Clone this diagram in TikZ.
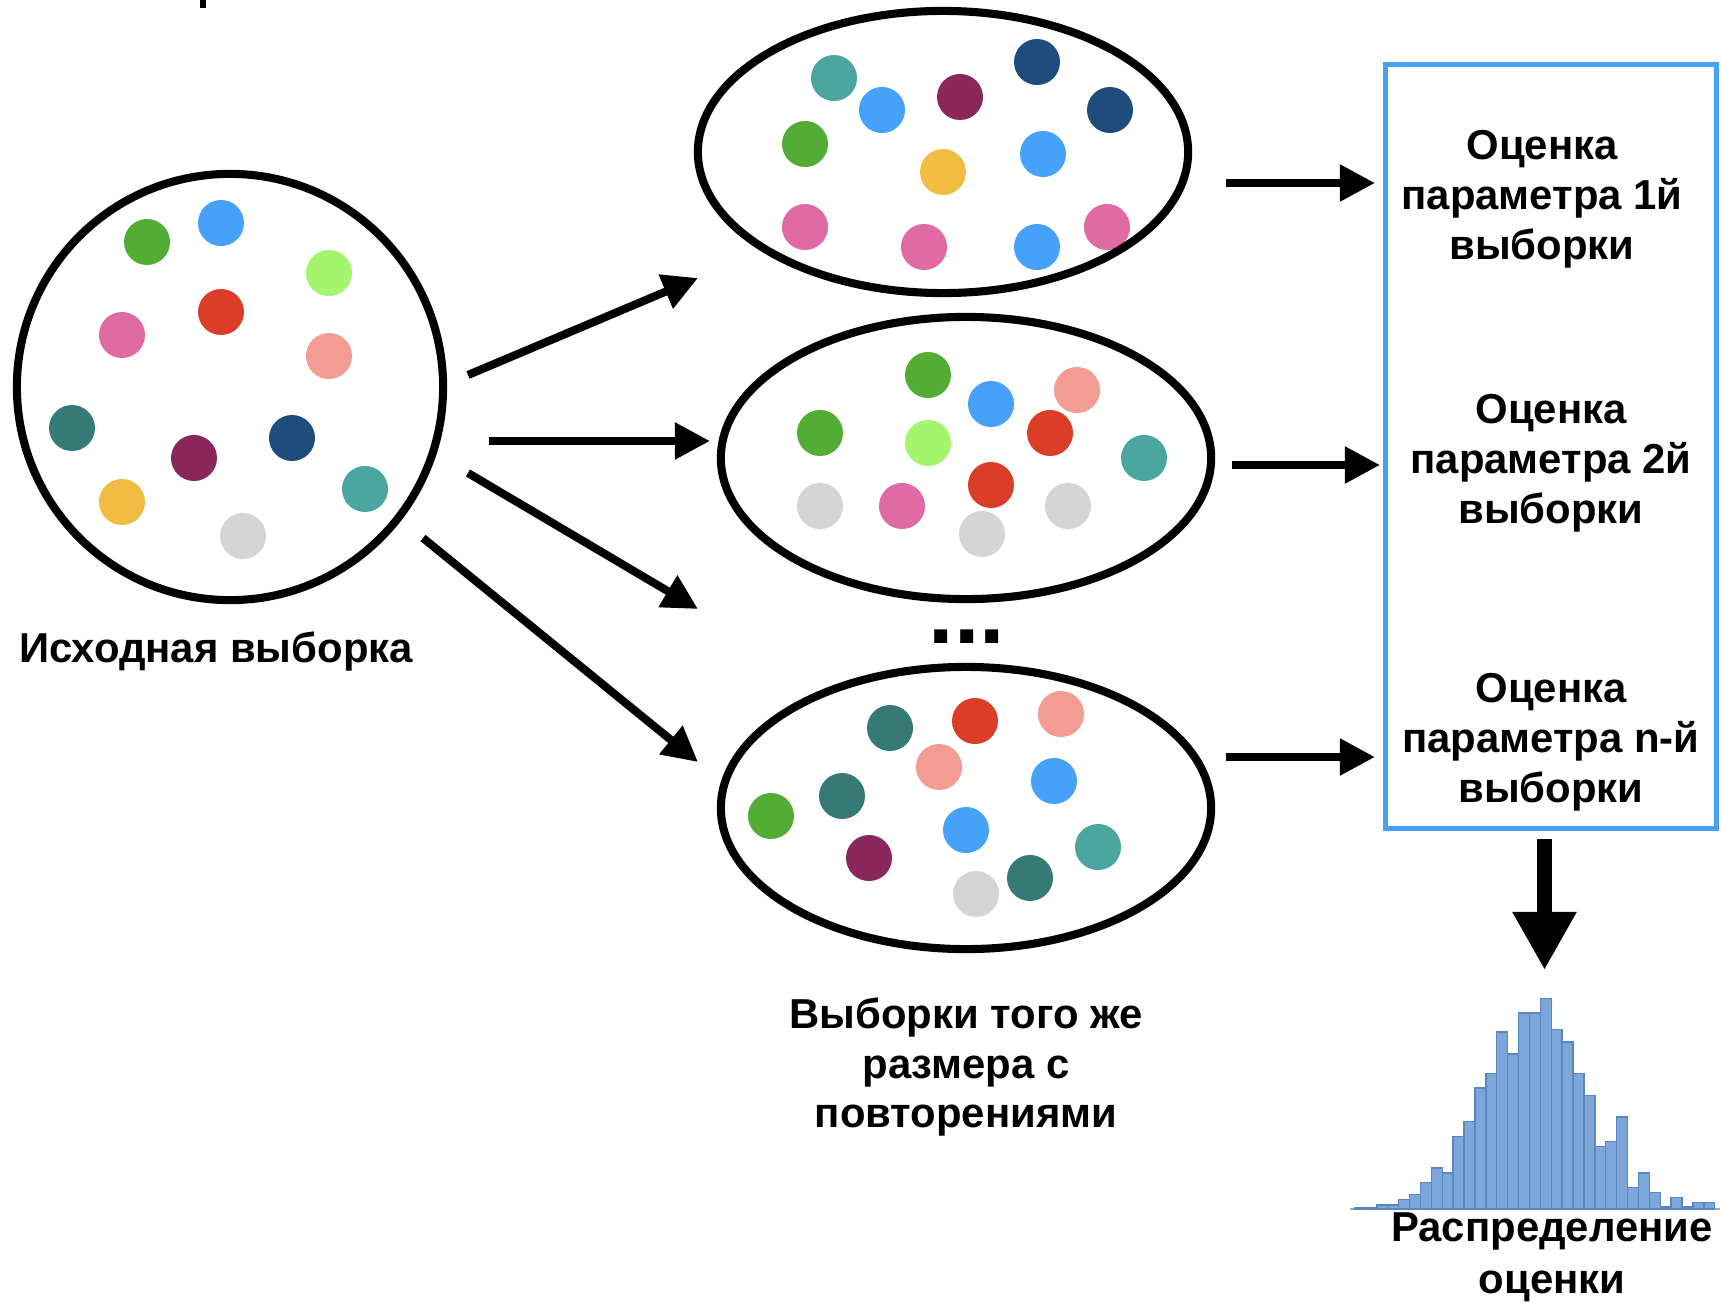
\documentclass[tikz,border=0pt]{standalone}
\usepackage{fontspec}
\setmainfont{Liberation Sans}
\usepackage{xcolor}
\usetikzlibrary{positioning,shapes.geometric,arrows.meta}
\definecolor{cgreen}{HTML}{53AC34}
\definecolor{cblue}{HTML}{45A2F8}
\definecolor{clime}{HTML}{A3F56B}
\definecolor{cred}{HTML}{DC3D28}
\definecolor{cpink}{HTML}{DF6AA4}
\definecolor{csalmon}{HTML}{F29C92}
\definecolor{cpine}{HTML}{357A75}
\definecolor{cplum}{HTML}{8B285B}
\definecolor{cnavy}{HTML}{1E4D7C}
\definecolor{cteal}{HTML}{4AA69E}
\definecolor{cyellow}{HTML}{F0BD42}
\definecolor{cgrey}{HTML}{D5D5D5}
\definecolor{boxblue}{HTML}{45A2F8}
\definecolor{barfill}{HTML}{7BA7DB}
\definecolor{barline}{HTML}{5B86BE}

\begin{document}
\begin{tikzpicture}[x=0.01cm, y=-0.01cm,
  every node/.style={font=\bfseries\fontsize{11.9}{14.2}\selectfont, align=center, inner sep=0pt},
  pool/.style={circle, draw, line width=2.3pt, minimum size=4.26cm},
  smp/.style={ellipse, draw, line width=2.3pt, minimum width=4.9cm, minimum height=2.82cm},
  estbox/.style={rectangle, draw=boxblue, line width=1.4pt, minimum width=3.3cm, minimum height=7.63cm},
  arr/.style={line width=2.3pt, -{Triangle[length=3.5mm, width=3.5mm]}},
  bigarr/.style={line width=0.15cm, -{Triangle[length=5.8mm, width=6mm]}},
  bar/.style={draw=barline, fill=barfill, line width=0.4pt}
]
  \useasboundingbox (0,0) rectangle (1721,1303);
  \fill (200,0) rectangle (206,8);

  % Balls of the original sample
  \foreach \x/\y/\c in {147/242/cgreen, 221/223/cblue, 329/273/clime, 221/312/cred,
      122/335/cpink, 329/356/csalmon, 72/428/cpine, 194/458/cplum, 292/438/cnavy,
      365/489/cteal, 122/502/cyellow, 243/536/cgrey}
    \fill[\c] (\x,\y) circle (0.23cm);

  % Balls of the resamples
  \foreach \x/\y/\c in {834/78/cteal, 882/110/cblue, 960/97/cplum, 1037/62/cnavy,
      1110/110/cnavy, 805/144/cgreen, 943/172/cyellow, 1043/154/cblue, 805/227/cpink,
      924/247/cpink, 1037/247/cblue, 1107/227/cpink}
    \fill[\c] (\x,\y) circle (0.23cm);
  \foreach \x/\y/\c in {928/375/cgreen, 991/404/cblue, 1077/390/csalmon, 820/433/cgreen,
      928/443/clime, 1050/433/cred, 1144/458/cteal, 991/485/cred, 820/506/cgrey,
      902/506/cpink, 1068/506/cgrey, 982/534/cgrey}
    \fill[\c] (\x,\y) circle (0.23cm);
  \foreach \x/\y/\c in {890/728/cpine, 975/721/cred, 1061/714/csalmon, 939/767/csalmon,
      1054/781/cblue, 771/816/cgreen, 842/796/cpine, 966/830/cblue, 1098/847/cteal,
      869/858/cplum, 1030/878/cpine, 976/894/cgrey}
    \fill[\c] (\x,\y) circle (0.23cm);

  % Samples
  \node[pool] (orig) at (230,387) {};
  \node[smp] (smp1) at (943,152) {};
  \node[smp] (smp2) at (966,458) {};
  \node[smp] (smpn) at (966,808) {};
  \node[font=\bfseries\fontsize{26}{30}\selectfont, anchor=base] (more) at (967,643) {...};

  % Estimates
  \node[estbox] (box) at (1551,446.5) {};
  \node (est1) at (1542,199) {Оценка\\параметра 1й\\выборки};
  \node (est2) at (1551,463) {Оценка\\параметра 2й\\выборки};
  \node (estn) at (1551,742) {Оценка\\параметра n-й\\выборки};

  % Labels
  \node[anchor=base] (origlbl) at (216,662) {Исходная выборка};
  \node (smplbl) at (966,1067) {Выборки того же\\размера с\\повторениями};
  \node (distlbl) at (1552,1257) {Распределение\\[0.02cm]оценки};

  % Histogram
  \draw[draw=gray!70, line width=0.6pt] (1350,1209) -- (1720,1209);
  \foreach \h [count=\i from 0] in {1.7,1.7,4,4,9.3,14.3,26.7,41,36,72.7,87.3,121,135.3,
      177,155,196,196,210.3,179.3,167,135.3,113.7,62.7,67.7,92,21.3,36,16.7,2,11.7,2,6.7,6.7}
    \draw[bar] ({1355+\i*10.9},1209) rectangle ++(10.9,-\h);

  % Arrow ends
  \coordinate (a1s) at (468,375);  \coordinate (a1e) at (698,278);
  \coordinate (a2s) at (489,441);  \coordinate (a2e) at (710,441);
  \coordinate (a3s) at (468,473);  \coordinate (a3e) at (698,609);
  \coordinate (a4s) at (423,538);  \coordinate (a4e) at (698,762);
  \coordinate (b1s) at (1226,183); \coordinate (b1e) at (1375,183);
  \coordinate (b2s) at (1232,465); \coordinate (b2e) at (1380,465);
  \coordinate (bns) at (1226,757); \coordinate (bne) at (1375,757);
  \coordinate (cs) at (1544.5,839); \coordinate (ce) at (1544.5,970);

  % Resampling
  \draw[arr] (a1s) -- (a1e);
  \draw[arr] (a2s) -- (a2e);
  \draw[arr] (a3s) -- (a3e);
  \draw[arr] (a4s) -- (a4e);

  % Estimation
  \draw[arr] (b1s) -- (b1e);
  \draw[arr] (b2s) -- (b2e);
  \draw[arr] (bns) -- (bne);
  \draw[bigarr] (cs) -- (ce);
\end{tikzpicture}
\end{document}
